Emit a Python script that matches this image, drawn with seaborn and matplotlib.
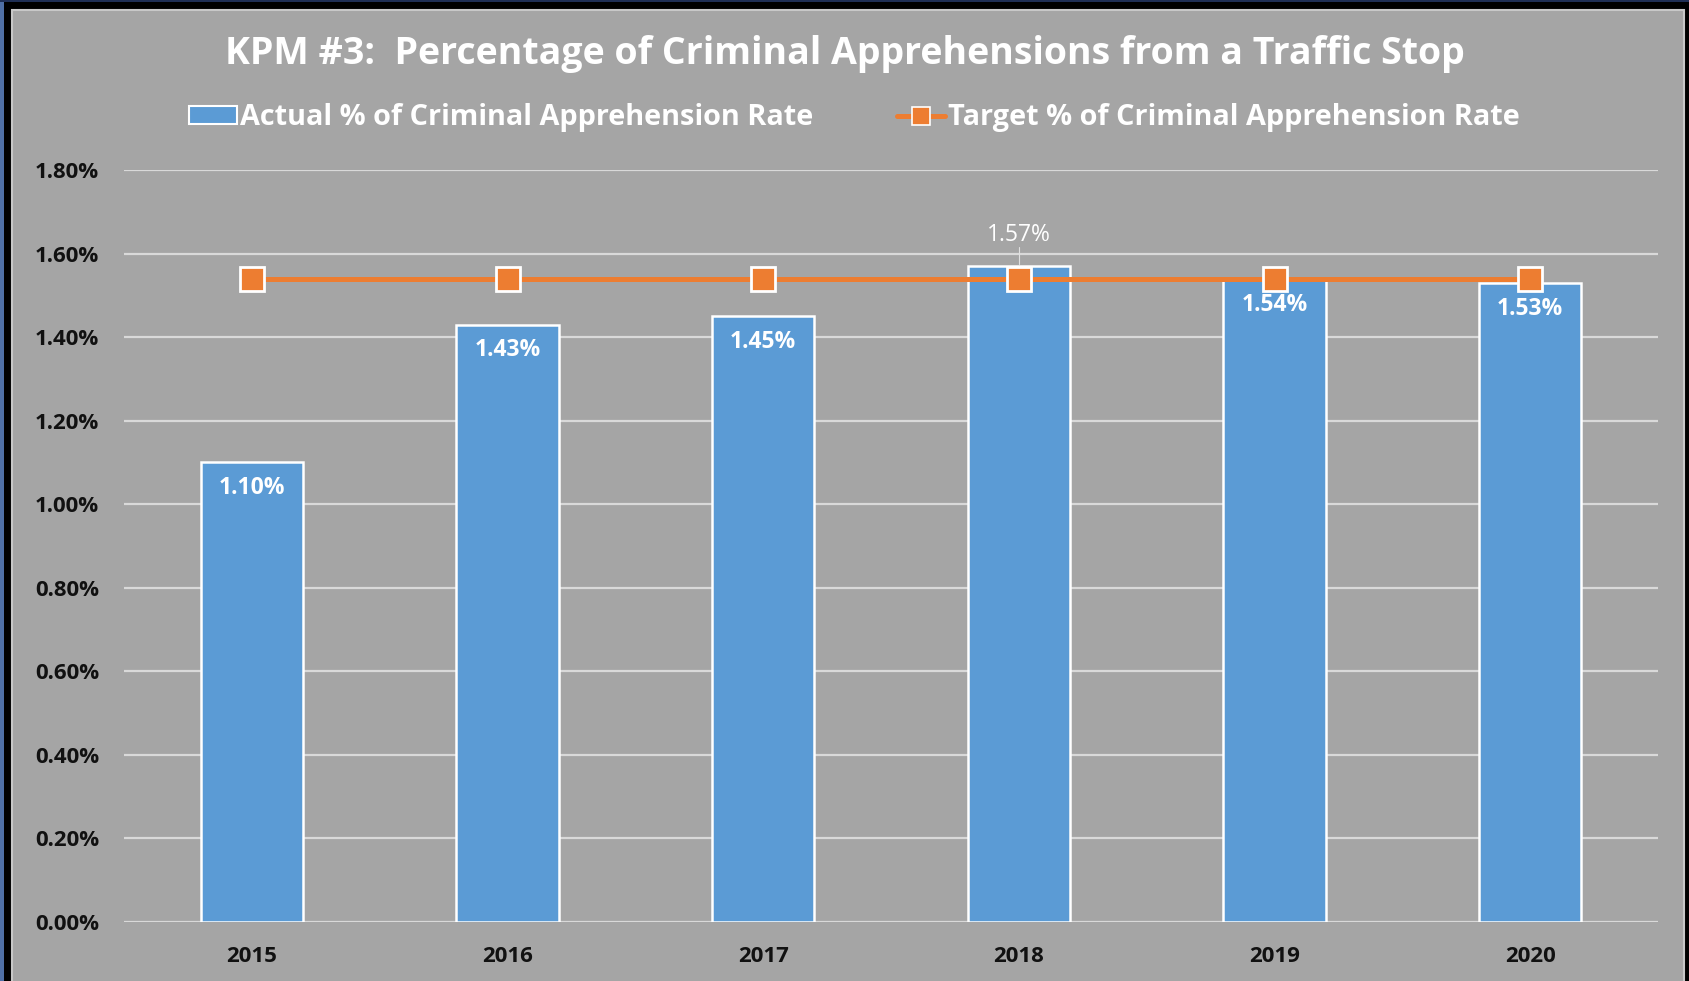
import matplotlib
matplotlib.use("Agg")
import matplotlib.pyplot as plt
from matplotlib.patches import Rectangle, Patch
from matplotlib.lines import Line2D
import seaborn as sns
import pandas as pd

years = ["2015", "2016", "2017", "2018", "2019", "2020"]
actual_pct = [1.10, 1.43, 1.45, 1.57, 1.54, 1.53]
target_pct = [1.54, 1.54, 1.54, 1.54, 1.54, 1.54]
y_ticks = [0.0, 0.2, 0.4, 0.6, 0.8, 1.0, 1.2, 1.4, 1.6, 1.8]

title = "KPM #3:  Percentage of Criminal Apprehensions from a Traffic Stop"
actual_name = "Actual % of Criminal Apprehension Rate"
target_name = "Target % of Criminal Apprehension Rate"

BG = "#A5A5A5"
BLUE = "#5B9BD5"
ORANGE = "#ED7D31"
GRID = "#D9D9D9"
FONT = "Open Sans"

df = pd.DataFrame({"year": years, "actual": actual_pct, "target": target_pct})

sns.set_theme(style="white")
plt.rcParams["font.family"] = [FONT, "DejaVu Sans"]

W, H = 1689, 981
fig = plt.figure(figsize=(W / 100, H / 100), dpi=100)
fig.patch.set_facecolor("black")

# frame: blue strip on left/top, black band, gray panel with light rim
fig.patches.append(Rectangle((0, 0), 4 / W, 1, transform=fig.transFigure,
                             facecolor="#4F6FA5", edgecolor="none", zorder=-3))
fig.patches.append(Rectangle((0, 1 - 2 / H), 1, 2 / H, transform=fig.transFigure,
                             facecolor="#1F2F55", edgecolor="none", zorder=-3))
fig.patches.append(Rectangle((12 / W, -0.01), (1684 - 12) / W, 1.01 - 10 / H,
                             transform=fig.transFigure, facecolor=BG,
                             edgecolor="#C8C8C8", linewidth=1.5, zorder=-2))

ax = fig.add_axes([124 / W, 1 - 922 / H, (1658 - 124) / W, (922 - 170) / H])
ax.set_facecolor("none")

sns.barplot(data=df, x="year", y="actual", color=BLUE, saturation=1,
            width=0.40, edgecolor="white", linewidth=1.8, ax=ax, zorder=2)
sns.pointplot(data=df, x="year", y="target", color=ORANGE, markers="s",
              markersize=17, linewidth=3.6, markeredgecolor="white",
              markeredgewidth=2, ax=ax, zorder=4)

ax.set_ylim(0, 1.8)
ax.set_xlim(-0.5, len(years) - 0.5)
ax.set_yticks(y_ticks)
ax.set_yticklabels([f"{v:.2f}%" for v in y_ticks])
ax.yaxis.grid(True, color=GRID, linewidth=1.6, zorder=0)
ax.set_axisbelow(True)
for s in ax.spines.values():
    s.set_visible(False)
ax.tick_params(axis="both", length=0, labelcolor="#111111", labelsize=16)
ax.tick_params(axis="y", pad=18)
ax.tick_params(axis="x", pad=17)
for lab in ax.get_xticklabels() + ax.get_yticklabels():
    lab.set_fontweight("bold")
ax.set_xlabel("")
ax.set_ylabel("")

# value labels
for i, v in enumerate(actual_pct):
    if years[i] == "2018":
        ax.text(i, v + 0.075, f"{v:.2f}%", ha="center", va="center",
                color="white", fontsize=16.5, zorder=5)
        ax.plot([i, i], [v + 0.045, v + 0.005], color="#E0E0E0",
                linewidth=0.8, zorder=5)
    else:
        ax.text(i, v - 0.062, f"{v:.2f}%", ha="center", va="center",
                color="white", fontsize=16.5, fontweight="bold", zorder=5)

fig.text(0.5, 1 - 54 / H, title, ha="center", va="center", color="white",
         fontsize=27, fontweight="bold")

handles = [
    Patch(facecolor=BLUE, edgecolor="white", linewidth=1.5),
    Line2D([0], [0], color=ORANGE, linewidth=3.6, marker="s", markersize=13,
           markeredgecolor="white", markeredgewidth=1.2),
]
leg = fig.legend(handles, [actual_name, target_name], loc="center",
                 bbox_to_anchor=(0.5 + 10 / W, 1 - 118 / H), ncol=2,
                 frameon=False, handlelength=1.65, handleheight=0.6,
                 handletextpad=0.12, columnspacing=2.9,
                 prop={"family": FONT, "weight": "bold", "size": 20.8})
for t in leg.get_texts():
    t.set_color("white")

fig.savefig("out.png", dpi=100, facecolor=fig.get_facecolor())
